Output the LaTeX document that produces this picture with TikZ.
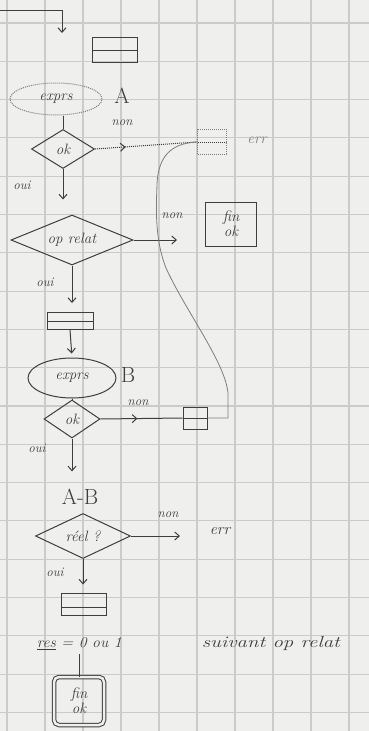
\documentclass[tikz,border=0pt]{standalone}
\usepackage{graphicx}
\usetikzlibrary{shapes.geometric,arrows.meta,decorations.markings}
\definecolor{paper}{HTML}{EFEFED}
\definecolor{gridc}{HTML}{CBCBC9}
\definecolor{ink}{HTML}{3E3E3E}
\definecolor{faintink}{HTML}{7E7E7E}
\begin{document}
\begin{tikzpicture}[x=1pt,y=-1pt,
  line width=1pt, draw=ink,
  every node/.style={text=ink},
  hand/.style={font=\itshape\fontsize{15}{16}\selectfont},
  small/.style={font=\itshape\fontsize{13}{14}\selectfont},
  big/.style={font=\fontsize{22}{24}\selectfont},
  dia/.style={diamond, draw=ink, inner sep=0pt, hand},
  oval/.style={ellipse, draw=ink, inner sep=0pt, hand},
  midrect/.style={rectangle, draw=ink, inner sep=0pt,
    path picture={\draw[ink] (path picture bounding box.west) -- (path picture bounding box.east);}},
  arr/.style={-{Straight Barb[length=4.5pt,width=8pt]}, ink},
  midarrow/.style={ink, postaction={decorate}, decoration={markings, mark=at position #1 with {\arrow{Straight Barb[length=4.5pt,width=8pt]}}}},
  faint/.style={draw=faintink, densely dotted}
]
\fill[paper] (0,0) rectangle (369,731);
\useasboundingbox (0,0) rectangle (369,731);
% grid paper
\foreach \i in {0,...,9} \draw[gridc, line width=1.1pt] ({7+38*\i},0) -- ({7+38*\i},731);
\foreach \j in {0,...,18} \draw[gridc, line width=1.1pt] (0,{23+38.3*\j}) -- (369,{23+38.3*\j});

% entry arrow
\coordinate (s0) at (0,10);
\coordinate (s1) at (62,33);
\draw[arr] (s0) -| (s1);

\node[midrect, minimum width=45pt, minimum height=25pt] (r1) at (115,50) {};

% expression A
\node[oval, faint, minimum width=92pt, minimum height=32pt] (e1) at (56,99) {exprs};
\node[big] (A) at (122,96) {A};
\node[dia, aspect=1.6, minimum width=63pt, minimum height=39pt] (d1) at (63,149) {ok};
\draw[ink, line width=0.8pt] (d1.north |- e1.south) -- (d1.north);
\node[small] (n1) at (122,123) {non};
\node[midrect, faint, minimum width=29pt, minimum height=25pt] (b1) at (212,142) {};
\node[hand, text=faintink] (err1) at (257,140) {err};
\draw[faint, midarrow=0.3] (d1.east) -- (b1.west);

% oui -> op relat
\node[small] (o1) at (22,185) {oui};
\node[dia, aspect=2.4, minimum width=122pt, minimum height=50pt] (d2) at (72,240) {op relat};
\draw[arr] (d1.south) -- ([yshift=15pt]d1.south |- d2.north);
\node[small] (n2) at (172,216) {non};
\node[rectangle, draw=ink, minimum width=51pt, minimum height=44pt, align=center, inner sep=1pt, font=\itshape\fontsize{15}{12}\selectfont] (f1) at (231,224) {fin\\ok};
\draw[arr, shorten >=28pt] (d2.east) -- (d2.east -| f1.west);

\node[small] (o2) at (45,282) {oui};
\node[midrect, minimum width=46pt, minimum height=17pt] (r2) at (70,321) {};
\draw[arr] (d2.south) -- ([yshift=9pt]d2.south |- r2.north);

% expression B
\node[oval, minimum width=88pt, minimum height=40pt] (e2) at (72,378) {exprs};
\draw[arr, shorten >=4pt] (r2.south) -- (e2.north);
\node[big] (B) at (128,375) {B};
\node[dia, aspect=1.5, minimum width=56pt, minimum height=38pt] (d3) at (72,419) {ok};
\draw[ink, line width=0.8pt] (e2.south) -- (d3.north);
\node[small] (n3) at (138,403) {non};
\node[midrect, minimum width=24pt, minimum height=22pt] (b2) at (195,418) {};
\draw[midarrow=0.45] (d3.east) -- (b2.west);

% link from second error box back to first
\coordinate (c1) at (228,418);
\coordinate (c2) at (228,393);
\coordinate (c3) at (166,268);
\coordinate (c4) at (157,185);
\draw[draw=faintink, line width=0.8pt] (b2.east) -- (c1) -- (c2)
  .. controls (225,362) and (185,310) .. (c3)
  .. controls (155,240) and (156,210) .. (c4)
  .. controls (158,150) and (178,143) .. (b1.west);

% A-B real?
\node[small] (o3) at (37,448) {oui};
\node[big] (AB) at (80,497) {A-B};
\draw[arr] (d3.south) -- ([yshift=14pt]d3.south |- AB.north);
\node[dia, aspect=2, minimum width=95pt, minimum height=45pt] (d4) at (83,536) {réel ?};
\node[small] (n4) at (168,515) {non};
\node[font=\itshape\fontsize{16}{17}\selectfont] (err2) at (220,531) {err};
\draw[arr, shorten >=26pt] (d4.east) -- (d4.east -| err2.west);

\node[small] (o4) at (55,572) {oui};
\node[rectangle, draw=ink, minimum width=45pt, minimum height=22pt, inner sep=0pt,
  path picture={\draw[ink] ([yshift=-3pt]path picture bounding box.west) -- ([yshift=-3pt]path picture bounding box.east);}] (r3) at (84,604) {};
\draw[arr] (d4.south) -- ([yshift=8pt]d4.south |- r3.north);

% result
\node[anchor=west, font=\itshape\fontsize{15}{16}\selectfont] (res) at (33,644) {\scalebox{1.05}[1]{\underline{res} = 0 ou 1}};
\node[anchor=west, font=\itshape\fontsize{16}{17}\selectfont] (suiv) at (198,643) {\scalebox{1.3}[1]{suivant op relat}};
\node[rectangle, draw=ink, double=paper, double distance=2.5pt, rounded corners=5pt,
  minimum width=50pt, minimum height=48pt, inner sep=1pt, align=center,
  font=\itshape\fontsize{15}{12}\selectfont] (f2) at (79,701) {fin\\ok};
\draw (f2.north) -- (f2.north |- res.south);
\end{tikzpicture}
\end{document}
